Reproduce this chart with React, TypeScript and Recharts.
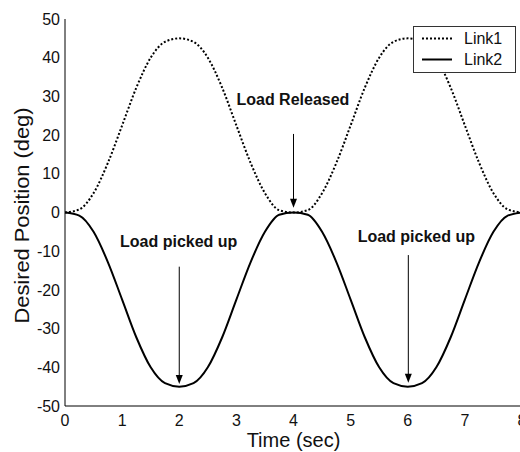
import { LineChart, Line, XAxis, YAxis, Legend, ReferenceLine, ReferenceDot } from 'recharts';

const FONT = '"Liberation Sans", Arial, sans-serif';

const time = [
  0, 0.25, 0.5, 0.75, 1, 1.25, 1.5, 1.75, 2, 2.25, 2.5, 2.75, 3, 3.25, 3.5, 3.75, 4,
  4.25, 4.5, 4.75, 5, 5.25, 5.5, 5.75, 6, 6.25, 6.5, 6.75, 7, 7.25, 7.5, 7.75, 8,
];
const link1 = [
  0, 0.8, 5, 12.8, 22.5, 32.3, 40, 44.1, 45, 44.1, 40, 32.3, 22.5, 12.8, 5, 0.6, 0,
  0.6, 5, 12.8, 22.5, 32.3, 40, 44.1, 45, 44.1, 40, 32.3, 22.5, 12.8, 5, 0.8, 0,
];
const link2 = [
  0, -0.8, -5, -12.8, -22.5, -32.3, -40, -44.1, -45, -44.1, -40, -32.3, -22.5, -12.8, -5, -0.6, 0,
  -0.6, -5, -12.8, -22.5, -32.3, -40, -44.1, -45, -44.1, -40, -32.3, -22.5, -12.8, -5, -0.8, 0,
];
const timeTicks = [0, 1, 2, 3, 4, 5, 6, 7, 8];
const positionTicks = [-50, -40, -30, -20, -10, 0, 10, 20, 30, 40, 50];

const notes = [
  { text: 'Load Released', x: 4, textX: 3.99, textY: 29.1, from: 20.3, to: 1.2 },
  { text: 'Load picked up', x: 2, textX: 1.99, textY: -7.4, from: -14, to: -44.3 },
  { text: 'Load picked up', x: 6.01, textX: 6.15, textY: -6.3, from: -11, to: -44 },
];

const data = time.map((t, i) => ({ t, link1: link1[i], link2: link2[i] }));

const seriesNames = [
  { name: 'Link1', dash: '2 2' },
  { name: 'Link2', dash: undefined },
];

const LegendBox = () => (
  <div
    style={{
      width: 101,
      height: 44,
      border: '1px solid #333',
      background: '#fff',
      fontFamily: FONT,
      fontSize: 16,
      color: '#111',
      paddingTop: 1,
      boxSizing: 'content-box',
    }}
  >
    {seriesNames.map((s) => (
      <div key={s.name} style={{ display: 'flex', alignItems: 'center', height: 21 }}>
        <svg width={50} height={21} style={{ display: 'block' }}>
          <line x1={8} x2={38} y1={10.5} y2={10.5} stroke="#000" strokeWidth={2} strokeDasharray={s.dash} />
        </svg>
        <span style={{ lineHeight: '21px' }}>{s.name}</span>
      </div>
    ))}
  </div>
);

const ArrowHead = (props: any) => {
  const { cx, cy } = props;
  return <path d={`M${cx - 3.5},${cy - 9} L${cx + 3.5},${cy - 9} L${cx},${cy} Z`} fill="#000" />;
};

const NoteText = (text: string) => (props: any) => (
  <text
    x={props.cx}
    y={props.cy}
    textAnchor="middle"
    dominantBaseline="central"
    fontFamily={FONT}
    fontSize={16}
    fontWeight="bold"
    fill="#111"
  >
    {text}
  </text>
);

const YLabel = (props: any) => {
  const vb = props.viewBox;
  const x = vb.x + 22;
  const y = vb.y + vb.height / 2 + 3;
  return (
    <text
      x={x}
      y={y}
      transform={`rotate(-90, ${x}, ${y})`}
      textAnchor="middle"
      dominantBaseline="central"
      fontFamily={FONT}
      fontSize={20}
      textLength={216}
      lengthAdjust="spacingAndGlyphs"
      fill="#111"
    >
      Desired Position (deg)
    </text>
  );
};

const XLabel = (props: any) => {
  const vb = props.viewBox;
  return (
    <text
      x={vb.x + vb.width / 2}
      y={vb.y + 41}
      textAnchor="middle"
      fontFamily={FONT}
      fontSize={20}
      fill="#111"
    >
      Time (sec)
    </text>
  );
};

export default function App() {
  const tickStyle = { fontFamily: FONT, fontSize: 16, fill: '#111' };
  return (
    <div
      style={{
        position: 'absolute',
        left: 0,
        top: 0,
        width: 520,
        height: 452,
        overflow: 'hidden',
        background: '#fff',
      }}
    >
      <LineChart width={540} height={452} data={data} margin={{ top: 19, right: 18, bottom: 0, left: 0 }}>
        <XAxis
          dataKey="t"
          type="number"
          domain={[0, 8]}
          ticks={timeTicks}
          height={46}
          tickLine={false}
          tickSize={0}
          tickMargin={9}
          tick={tickStyle}
          stroke="#000"
          label={<XLabel />}
        />
        <XAxis
          xAxisId="bticks"
          dataKey="t"
          type="number"
          domain={[0, 8]}
          ticks={timeTicks}
          orientation="bottom"
          mirror
          height={0}
          tick={false}
          tickSize={5}
          axisLine={false}
          stroke="#000"
        />
        <XAxis
          xAxisId="top"
          dataKey="t"
          type="number"
          domain={[0, 8]}
          ticks={timeTicks}
          orientation="top"
          mirror
          height={0}
          tick={false}
          tickSize={5}
          stroke="#000"
        />
        <YAxis
          type="number"
          domain={[-50, 50]}
          ticks={positionTicks}
          width={65}
          tickLine={false}
          tickSize={0}
          tickMargin={5}
          tick={tickStyle}
          stroke="#000"
          label={<YLabel />}
        />
        <YAxis
          yAxisId="lticks"
          type="number"
          domain={[-50, 50]}
          ticks={positionTicks}
          orientation="left"
          mirror
          width={0}
          tick={false}
          tickSize={5}
          axisLine={false}
          stroke="#000"
        />
        <YAxis
          yAxisId="right"
          type="number"
          domain={[-50, 50]}
          ticks={positionTicks}
          orientation="right"
          mirror
          width={0}
          tick={false}
          tickSize={5}
          stroke="#000"
        />
        <Line
          type="monotone"
          dataKey="link1"
          name="Link1"
          stroke="#000"
          strokeWidth={2}
          strokeDasharray="2 2"
          dot={false}
          isAnimationActive={false}
        />
        <Line
          type="monotone"
          dataKey="link2"
          name="Link2"
          stroke="#000"
          strokeWidth={2}
          dot={false}
          isAnimationActive={false}
        />
        {notes.map((n, i) => (
          <ReferenceLine
            key={`shaft${i}`}
            segment={[
              { x: n.x, y: n.from },
              { x: n.x, y: n.to + 2 },
            ]}
            stroke="#000"
            strokeWidth={1}
          />
        ))}
        {notes.map((n, i) => (
          <ReferenceDot key={`head${i}`} x={n.x} y={n.to} r={0} shape={ArrowHead} />
        ))}
        {notes.map((n, i) => (
          <ReferenceDot key={`text${i}`} x={n.textX} y={n.textY} r={0} shape={NoteText(n.text)} />
        ))}
        <Legend
          content={<LegendBox />}
          layout="horizontal"
          verticalAlign="middle"
          align="center"
          wrapperStyle={{ left: 413, top: 26, width: 103, height: 46, bottom: 'auto', right: 'auto' }}
        />
      </LineChart>
    </div>
  );
}
